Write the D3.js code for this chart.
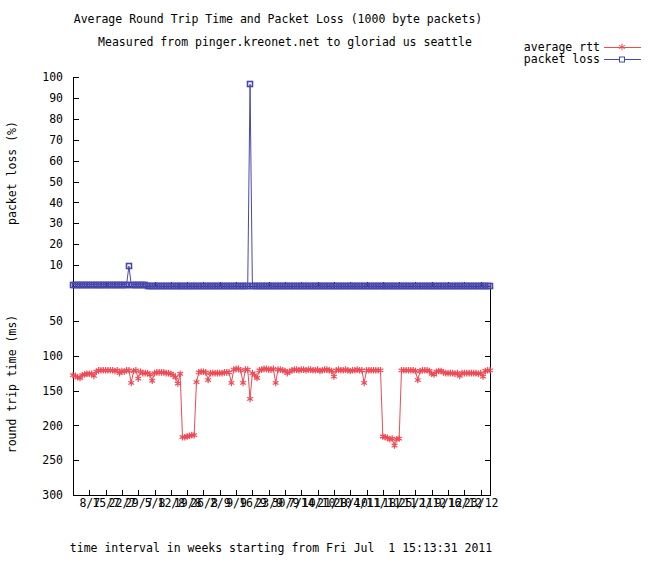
<!DOCTYPE html>
<html>
<head>
<meta charset="utf-8">
<script src="https://cdn.jsdelivr.net/npm/d3@7"></script>
<style>
  body { margin: 0; background: #fff; }
  text { font-family: "DejaVu Sans Mono", monospace; font-size: 11.5px; fill: #000; white-space: pre; }
  .axis path, .axis line { stroke: #000; shape-rendering: crispEdges; }
</style>
</head>
<body>
<div id="chart"></div>
<script>
//* ------------------------------ DATA ---------------------------------------- //
const startDate = new Date(2011, 6, 1, 15, 13, 31);
const nDays = 180;

// average rtt (ms), one value a day from Jul 1
const rttValues = [
  128,129,131,132,128,127,126,126,126,129,
  123,121,121,121,121,121,121,121,122,121,
  125,122,123,121,121,139,122,121,133,123,
  125,125,125,127,136,125,124,124,124,124,
  125,125,126,128,131,140,126,217,217,216,
  215,214,214,138,124,123,123,124,135,125,
  125,125,125,125,125,124,124,124,139,120,
  119,119,121,139,120,120,162,125,128,132,
  121,120,119,119,120,120,119,139,120,120,
  121,122,125,123,121,120,120,121,120,120,
  121,120,120,121,121,120,122,121,120,120,
  121,122,130,121,120,121,121,120,121,122,
  121,121,120,121,121,139,121,121,121,121,
  121,121,121,216,217,218,220,219,229,220,
  219,121,121,121,121,121,121,122,135,122,
  121,121,121,122,126,127,123,122,122,124,
  125,125,125,125,126,125,129,125,125,125,
  125,125,125,125,126,125,130,122,121,121
];

// packet loss (%), one value a day from Jul 1
const lossValues = [
  0.7,0.7,0.7,0.7,0.7,0.7,0.7,0.7,0.7,0.7,
  0.7,0.7,0.7,0.7,0.7,0.7,0.7,0.7,0.7,0.7,
  0.7,0.7,0.7,0.7,9.5,0.7,0.7,0.7,0.7,0.7,
  0.7,0.7,0,0,0,0,0,0,0,0,
  0,0,0,0,0,0,0,0,0,0,
  0,0,0,0,0,0,0,0,0,0,
  0,0,0,0,0,0,0,0,0,0,
  0,0,0,0,0,0,96.5,0,0,0,
  0,0,0,0,0,0,0,0,0,0,
  0,0,0,0,0,0,0,0,0,0,
  0,0,0,0,0,0,0,0,0,0,
  0,0,0,0,0,0,0,0,0,0,
  0,0,0,0,0,0,0,0,0,0,
  0,0,0,0,0,0,0,0,0,0,
  0,0,0,0,0,0,0,0,0,0,
  0,0,0,0,0,0,0,0,0,0,
  0,0,0,0,0,0,0,0,0,0,
  0,0,0,0,0,0,0,0,0,0
];

const lossTicks = [10, 20, 30, 40, 50, 60, 70, 80, 90, 100];
const rttTicks = [50, 100, 150, 200, 250, 300];
const weekTicks = d3.range(1, 26).map(k => d3.timeDay.offset(startDate, 7 * k));

const titleText = "Average Round Trip Time and Packet Loss (1000 byte packets)";
const subtitleText = "Measured from pinger.kreonet.net to gloriad us seattle";
const xLabelText = "time interval in weeks starting from Fri Jul  1 15:13:31 2011";
const seriesNames = ["average rtt", "packet loss"];
//* ------------------------------ END DATA ------------------------------------ //

const width = 659, height = 565;
const red = "#f04a55", blue = "#4848ac";

const days = d3.range(nDays).map(i => d3.timeDay.offset(startDate, i));

const x = d3.scaleTime()
  .domain([startDate, days[nDays - 1]])
  .range([73, 490]);
const yLoss = d3.scaleLinear().domain([0, 100]).range([286, 77]);
const yRtt = d3.scaleLinear().domain([0, 300]).range([286, 495]);

const svg = d3.select("#chart").append("svg")
  .attr("width", width)
  .attr("height", height);

// titles
svg.append("text").attr("x", 278).attr("y", 23).attr("text-anchor", "middle").text(titleText);
svg.append("text").attr("x", 285).attr("y", 46).attr("text-anchor", "middle").text(subtitleText);
svg.append("text").attr("x", 281).attr("y", 552).attr("text-anchor", "middle").text(xLabelText);

svg.append("text")
  .attr("transform", "translate(16,173) rotate(-90)")
  .attr("text-anchor", "middle")
  .text("packet loss (%)");
svg.append("text")
  .attr("transform", "translate(16,384) rotate(-90)")
  .attr("text-anchor", "middle")
  .text("round trip time (ms)");

// axes
svg.append("g").attr("class", "axis")
  .attr("transform", "translate(73,0)")
  .call(d3.axisLeft(yLoss).tickValues(lossTicks).tickSizeInner(-6).tickSizeOuter(0).tickPadding(10))
  .call(g => g.select(".domain").remove());

svg.append("g").attr("class", "axis")
  .attr("transform", "translate(73,0)")
  .call(d3.axisLeft(yRtt).tickValues(rttTicks).tickSizeInner(-6).tickSizeOuter(0).tickPadding(10))
  .call(g => g.select(".domain").remove());

svg.append("line")
  .attr("x1", 73.5).attr("x2", 73.5)
  .attr("y1", yLoss(100)).attr("y2", yRtt(300))
  .attr("stroke", "#000");

svg.append("g").attr("class", "axis")
  .attr("transform", "translate(490,0)")
  .call(d3.axisRight(yRtt).tickValues(rttTicks.slice(0, 5)).tickSizeInner(-5).tickSizeOuter(0).tickFormat(""))
  .call(g => g.select(".domain").attr("d", `M0.5,${yRtt(0)}V${yRtt(300)}`));

svg.append("g").attr("class", "axis")
  .attr("transform", `translate(0,${yRtt(300)})`)
  .call(d3.axisBottom(x).tickValues(weekTicks).tickSizeInner(-5).tickSizeOuter(0)
    .tickPadding(4).tickFormat(d3.timeFormat("%-d/%-m")))
  .call(g => g.selectAll("text").style("font-size", "11.5px"));

svg.append("g").attr("class", "axis")
  .attr("transform", `translate(0,${yLoss(0)})`)
  .call(d3.axisBottom(x).tickValues(weekTicks).tickSizeInner(-4).tickSizeOuter(0).tickFormat(""));

// series
const rttLine = d3.line().x((d, i) => x(days[i])).y(d => yRtt(d));
const lossLine = d3.line().x((d, i) => x(days[i])).y(d => yLoss(d));

svg.append("path").datum(rttValues)
  .attr("d", rttLine).attr("fill", "none").attr("stroke", red).attr("stroke-width", 1);
svg.append("g").selectAll("path").data(rttValues).join("path")
  .attr("transform", (d, i) => `translate(${x(days[i])},${yRtt(d)})`)
  .attr("d", d3.symbol(d3.symbolAsterisk, 30))
  .attr("fill", "none").attr("stroke", red).attr("stroke-width", 1.2);

svg.append("path").datum(lossValues)
  .attr("d", lossLine).attr("fill", "none").attr("stroke", blue).attr("stroke-width", 1);
svg.append("g").selectAll("rect").data(lossValues).join("rect")
  .attr("x", (d, i) => Math.round(x(days[i])) - 2.5)
  .attr("y", d => Math.round(yLoss(d)) - 2.5)
  .attr("width", 5).attr("height", 5)
  .attr("fill", "none").attr("stroke", blue).attr("stroke-width", 1.6);

// legend
const legend = svg.append("g");
[0, 1].forEach(k => {
  const ly = 47 + k * 12;
  legend.append("text").attr("x", 600).attr("y", ly + 4).attr("text-anchor", "end").text(seriesNames[k]);
  legend.append("line").attr("x1", 604).attr("x2", 641).attr("y1", ly + 0.5).attr("y2", ly + 0.5)
    .attr("stroke", k === 0 ? red : blue);
  if (k === 0) {
    legend.append("path").attr("transform", `translate(622,${ly})`)
      .attr("d", d3.symbol(d3.symbolAsterisk, 30)).attr("fill", "none").attr("stroke", red);
  } else {
    legend.append("rect").attr("x", 619.5).attr("y", ly - 2).attr("width", 5).attr("height", 5)
      .attr("fill", "#fff").attr("stroke", blue);
  }
});
</script>
</body>
</html>
